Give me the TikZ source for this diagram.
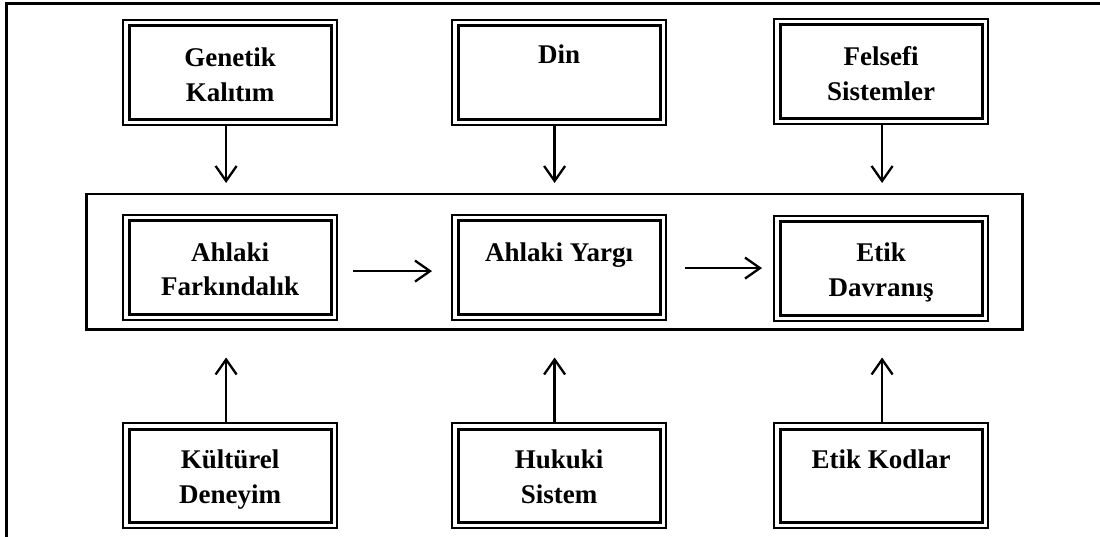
\documentclass[tikz,border=0pt]{standalone}
\usepackage{fontspec}
\setmainfont{Liberation Serif}
\usetikzlibrary{arrows.meta}
\begin{document}
\begin{tikzpicture}[x=1pt,y=-1pt,
  box/.style={draw, line width=2.2pt, minimum width=214pt, minimum height=105pt, inner sep=0pt, anchor=north west},
  inbox/.style={line width=3pt},
  lbl/.style={font=\bfseries\fontsize{27}{35}\selectfont, align=center, inner sep=0pt, anchor=base},
  arr/.style={line width=2.3pt, -{Straight Barb[length=15pt,width=21pt,line width=2.3pt]}},
  frameline/.style={line width=3pt}
]
\useasboundingbox (0,0) rectangle (1100,537);
% outer frame (open on right and bottom)
\draw[frameline] (6,540) -- (6,4) -- (1103,4);
% middle container
\node[draw, line width=2.5pt, minimum width=936pt, minimum height=135pt, inner sep=0pt, anchor=north west] (mid) at (85,193) {};
% boxes
\node[box] (g) at (122,19) {};
\node[box] (d) at (451,19) {};
\node[box] (f) at (773,18) {};
\node[box] (af) at (122,214) {};
\node[box] (ay) at (451,214) {};
\node[box] (ed) at (773,215) {};
\node[box] (k) at (122,422) {};
\node[box] (h) at (451,422) {};
\node[box] (ek) at (773,422) {};
\foreach \b in {g,d,f,af,ay,ed,k,h,ek}
  \draw[inbox] ([shift={(7pt,-7pt)}]\b.north west) rectangle ([shift={(-7pt,7pt)}]\b.south east);
% labels (anchor=base is the baseline of the last line)
\node[lbl] (tg) at ([yshift=-83pt]g.north) {Genetik\\Kalıtım};
\node[lbl] (td) at ([yshift=-45pt]d.north) {Din};
\node[lbl] (tf) at ([yshift=-83pt]f.north) {Felsefi\\Sistemler};
\node[lbl] (taf) at ([yshift=-82pt]af.north) {Ahlaki\\Farkındalık};
\node[lbl] (tay) at ([yshift=-48pt]ay.north) {Ahlaki Yargı};
\node[lbl] (ted) at ([yshift=-82pt]ed.north) {Etik\\Davranış};
\node[lbl] (tk) at ([yshift=-81pt]k.north) {Kültürel\\Deneyim};
\node[lbl] (th) at ([yshift=-81pt]h.north) {Hukuki\\Sistem};
\node[lbl] (tek) at ([yshift=-46pt]ek.north) {Etik Kodlar};
% vertical arrows
\draw[arr, shorten >=10pt] ([xshift=-4pt]g.south) -- ([xshift=-4pt]g.south |- mid.north);
\draw[arr, shorten >=10pt] ([xshift=-4.5pt]d.south) -- ([xshift=-4.5pt]d.south |- mid.north);
\draw[arr, shorten >=10pt] ([xshift=1pt]f.south) -- ([xshift=1pt]f.south |- mid.north);
\draw[arr, shorten >=27pt] ([xshift=-4pt]k.north) -- ([xshift=-4pt]k.north |- mid.south);
\draw[arr, shorten >=27pt] ([xshift=-4.5pt]h.north) -- ([xshift=-4.5pt]h.north |- mid.south);
\draw[arr, shorten >=27pt] ([xshift=1pt]ek.north) -- ([xshift=1pt]ek.north |- mid.south);
% horizontal arrows
\draw[arr, shorten <=15pt, shorten >=19pt] ([yshift=-3.5pt]af.east) -- ([yshift=-3.5pt]af.east -| ay.west);
\draw[arr, shorten <=18pt, shorten >=11pt] ([yshift=-0.5pt]ay.east) -- ([yshift=-0.5pt]ay.east -| ed.west);
\end{tikzpicture}
\end{document}
